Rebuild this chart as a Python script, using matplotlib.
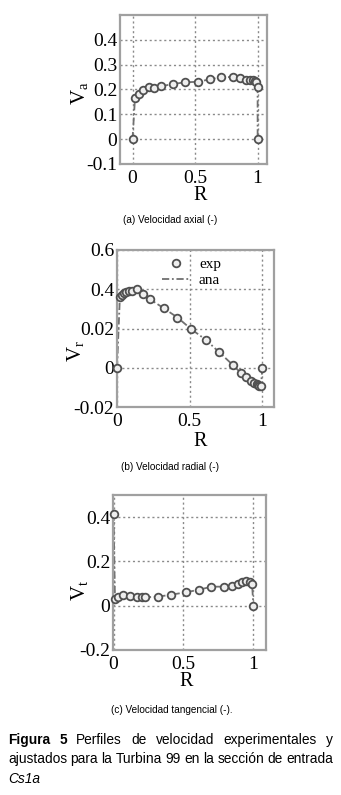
import matplotlib
matplotlib.use("Agg")
import matplotlib.pyplot as plt

# ---------------- data ----------------
R_a = [0.0, 0.02, 0.05, 0.08, 0.13, 0.17, 0.23, 0.32, 0.42, 0.52, 0.62, 0.71, 0.80,
       0.86, 0.91, 0.94, 0.96, 0.98, 0.99, 1.0, 1.0]
V_a = [0.0, 0.166, 0.182, 0.199, 0.212, 0.206, 0.213, 0.222, 0.229, 0.231, 0.241,
       0.250, 0.250, 0.246, 0.239, 0.238, 0.237, 0.235, 0.232, 0.21, 0.0]

R_b = [0.0, 0.02, 0.035, 0.05, 0.065, 0.08, 0.10, 0.136, 0.18, 0.227, 0.32, 0.416,
       0.51, 0.61, 0.70, 0.80, 0.85, 0.89, 0.92, 0.945, 0.96, 0.97, 0.98, 0.99, 1.0]
V_b = [0.0, 0.363, 0.37, 0.38, 0.385, 0.39, 0.393, 0.40, 0.376, 0.349, 0.304, 0.256,
       0.197, 0.143, 0.081, 0.012, -0.025, -0.046, -0.066, -0.078, -0.085, -0.09,
       -0.093, -0.095, 0.0]

R_c = [0.0, 0.01, 0.034, 0.07, 0.118, 0.165, 0.20, 0.225, 0.32, 0.414, 0.52, 0.61,
       0.70, 0.79, 0.85, 0.888, 0.92, 0.95, 0.976, 0.99, 1.0]
V_c = [0.415, 0.03, 0.041, 0.05, 0.045, 0.041, 0.038, 0.038, 0.041, 0.05, 0.061,
       0.072, 0.086, 0.086, 0.09, 0.10, 0.107, 0.113, 0.105, 0.10, 0.0]

xticks = [0, 0.5, 1]
xticklabels = ["0", "0.5", "1"]
yticks_a = [-0.1, 0, 0.1, 0.2, 0.3, 0.4]
yticklabels_a = ["-0.1", "0", "0.1", "0.2", "0.3", "0.4"]
yticks_b = [-0.2, 0, 0.2, 0.4, 0.6]
yticklabels_b = ["-0.02", "0", "0.02", "0.4", "0.6"]
yticks_c = [-0.2, 0, 0.2, 0.4]
yticklabels_c = ["-0.2", "0", "0.2", "0.4"]

captions = ["(a) Velocidad axial (-)", "(b) Velocidad radial (-)",
            "(c) Velocidad tangencial (-)."]
legend_labels = ["exp", "ana"]

# ---------------- figure ----------------
W, H = 341, 795
fig = plt.figure(figsize=(W / 100, H / 100), dpi=100)
plt.rcParams['mathtext.fontset'] = 'custom'
plt.rcParams['mathtext.rm'] = 'Liberation Serif'
plt.rcParams['mathtext.it'] = 'Liberation Serif:italic'

SERIF = 'Liberation Serif'
NARROW = ['Liberation Sans Narrow', 'Liberation Sans']
TICK_FS = 14


def px_axes(l, r, t, b):
    return fig.add_axes([l / W, (H - b) / H, (r - l) / W, (b - t) / H])


frame_col = '#a0a0a0'
grid_col = '#8a8a8a'
line_col = '#707070'
edge_col = '#505050'
face_col = '#eeeeee'


def style(ax, xlim, ylim, yticks, yticklabels):
    ax.set_xlim(*xlim)
    ax.set_ylim(*ylim)
    ax.set_xticks(xticks)
    ax.set_xticklabels(xticklabels, fontfamily=SERIF, fontsize=TICK_FS)
    ax.set_yticks(yticks)
    ax.set_yticklabels(yticklabels, fontfamily=SERIF, fontsize=TICK_FS)
    ax.tick_params(axis='y', length=0, pad=2, colors='black')
    ax.tick_params(axis='x', length=0, pad=4, colors='black')
    ax.grid(True, color=grid_col, linestyle=(0, (1.5, 2.0)), linewidth=1.0)
    for s in ax.spines.values():
        s.set_color(frame_col)
        s.set_linewidth(1.6)
    ax.set_axisbelow(True)


def draw(ax, R, V):
    l, = ax.plot(R, V, color=line_col, linestyle=(0, (4, 1.5, 1, 1.5)), linewidth=1.3,
                 zorder=2, clip_on=False)
    m, = ax.plot(R, V, linestyle='none', marker='o', markersize=5.5,
                 markerfacecolor=face_col, markeredgecolor=edge_col,
                 markeredgewidth=1.3, zorder=3, clip_on=False)
    return m, l


# (a)
ax_a = px_axes(120, 267, 15, 164)
style(ax_a, (-0.1, 1.075), (-0.1, 0.5), yticks_a, yticklabels_a)
draw(ax_a, R_a, V_a)
fig.text(200 / W, 1 - 195 / H, "R", fontfamily=SERIF, fontsize=14.5,
         ha='center', va='center')
fig.text(79 / W, 1 - 93 / H, r"V$_{\mathrm{a}}$", fontfamily=SERIF, fontsize=15,
         rotation=90, ha='center', va='center')

# (b)
ax_b = px_axes(117, 274, 250, 407)
style(ax_b, (0.0, 1.08), (-0.2, 0.6), yticks_b, yticklabels_b)
m, l = draw(ax_b, R_b, V_b)
leg = ax_b.legend([m, l], legend_labels, loc='upper left',
                  bbox_to_anchor=(0.22, 1.02), frameon=False,
                  prop={'family': SERIF, 'size': 11}, handlelength=1.8,
                  handletextpad=0.6, labelspacing=0.15, borderpad=0.2)
fig.text(200 / W, 1 - 441 / H, "R", fontfamily=SERIF, fontsize=14.5,
         ha='center', va='center')
fig.text(76 / W, 1 - 351 / H, r"V$_{\mathrm{r}}$", fontfamily=SERIF, fontsize=15,
         rotation=90, ha='center', va='center')

# (c)
ax_c = px_axes(113, 266, 495, 650)
style(ax_c, (-0.004, 1.09), (-0.2, 0.5), yticks_c, yticklabels_c)
draw(ax_c, R_c, V_c)
fig.text(186 / W, 1 - 681 / H, "R", fontfamily=SERIF, fontsize=14.5,
         ha='center', va='center')
fig.text(79 / W, 1 - 590 / H, r"V$_{\mathrm{t}}$", fontfamily=SERIF, fontsize=15,
         rotation=90, ha='center', va='center')

# sub-captions
for txt, (cx, cy) in zip(captions, [(170, 220), (170, 467), (172, 710)]):
    fig.text(cx / W, 1 - cy / H, txt, family=NARROW, fontsize=7.2,
             ha='center', va='center')

# main caption, justified
renderer = fig.canvas.get_renderer()
SANS = 'Liberation Sans'
CAP_FS = 9.9


def justified_line(words, y, x0=8, x1=333):
    arts = []
    for w, weight, style_ in words:
        t = fig.text(0, 1 - y / H, w, family=SANS, fontsize=CAP_FS,
                     fontweight=weight, fontstyle=style_, ha='left', va='center')
        arts.append(t)
    widths = [a.get_window_extent(renderer).width for a in arts]
    gap = (x1 - x0 - sum(widths)) / (len(arts) - 1)
    x = x0
    for a, wdt in zip(arts, widths):
        a.set_x(x / W)
        x += wdt + gap


line1 = [("Figura", 'bold', 'normal'), ("5", 'bold', 'normal'),
         ("Perfiles", 'normal', 'normal'), ("de", 'normal', 'normal'),
         ("velocidad", 'normal', 'normal'), ("experimentales", 'normal', 'normal'),
         ("y", 'normal', 'normal')]
line2 = [(w, 'normal', 'normal') for w in
         "ajustados para la Turbina 99 en la sección de entrada".split()]
justified_line(line1, 740)
justified_line(line2, 759)
fig.text(8 / W, 1 - 779 / H, "Cs1a", family=SANS, fontsize=CAP_FS,
         fontstyle='italic', ha='left', va='center')

fig.savefig("out.png", dpi=100)
